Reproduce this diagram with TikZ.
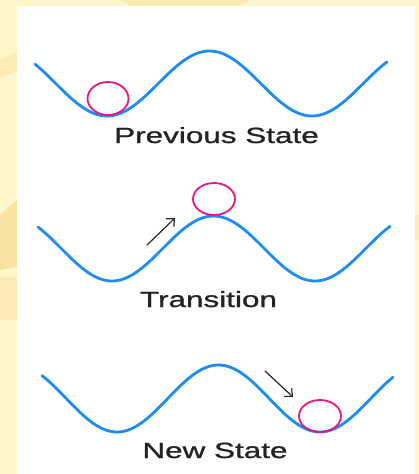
\documentclass[tikz,border=0pt]{standalone}
\usepackage{fontspec}
\setmainfont{Liberation Sans}
\newfontfamily\capfont[FakeBold=0.9]{Liberation Sans}
\usetikzlibrary{arrows.meta}
\definecolor{creamA}{RGB}{255,246,202}
\definecolor{creamB}{RGB}{250,226,160}
\definecolor{creamC}{RGB}{252,234,180}
\definecolor{waveblue}{RGB}{30,140,240}
\definecolor{ballpink}{RGB}{232,24,128}
\definecolor{txt}{RGB}{35,35,35}
\tikzset{
  wave/.style={draw=waveblue, line width=2.8pt, line cap=round, line join=round},
  ball/.style={draw=ballpink, line width=1.8pt},
  motion/.style={draw=black!85, line width=1.2pt, -{Straight Barb[length=6pt,width=11pt,line width=1.2pt]}},
  caption/.style={anchor=base, text=txt, font=\capfont\fontsize{22}{26}\selectfont, inner sep=0pt}
}
\begin{document}
\begin{tikzpicture}[x=1pt,y=-1pt]
\useasboundingbox (0,0) rectangle (419,474);
% background
\fill[creamA] (0,0) rectangle (419,474);
\fill[creamC] (0,60) -- (17,52) -- (17,70) -- (0,78) -- cycle;
\fill[creamB] (0,215) -- (17,200) -- (17,267) -- (0,270) -- cycle;
\fill[creamC] (0,278) -- (17,277) -- (17,320) -- (0,320) -- cycle;
\fill[creamC] (120,0) -- (250,0) -- (240,6) -- (130,6) -- cycle;
\fill[creamC] (415,215) rectangle (419,240);
\fill[white] (17,6) rectangle (415,474);
% panel 1: previous state
\draw[wave] plot[domain=35:387, samples=120, smooth] (\x,{83.5+32.5*cos(1.756098*(\x-107))});
\draw[ball] (108,98.5) ellipse [x radius=20.5, y radius=16.5];
\node[caption] (prev) at (216.5,143) {\scalebox{1.43}[1]{Previous State}};
% panel 2: transition
\draw[wave] plot[domain=38:390, samples=120, smooth] (\x,{248.5+32.5*cos(1.773399*(\x-112))});
\draw[ball] (214,199) ellipse [x radius=21, y radius=16];
\coordinate (up0) at (147,245);
\coordinate (up1) at (175,218);
\draw[motion] (up0) -- (up1);
\node[caption] (trans) at (208.5,307) {\scalebox{1.43}[1]{Transition}};
% panel 3: new state
\draw[wave] plot[domain=42:393, samples=120, smooth] (\x,{398.5+33.5*cos(1.773399*(\x-117))});
\draw[ball] (320,416) ellipse [x radius=21, y radius=16];
\coordinate (dn0) at (265,371);
\coordinate (dn1) at (293,397);
\draw[motion] (dn0) -- (dn1);
\node[caption] (new) at (215,458) {\scalebox{1.43}[1]{New State}};
\end{tikzpicture}
\end{document}
